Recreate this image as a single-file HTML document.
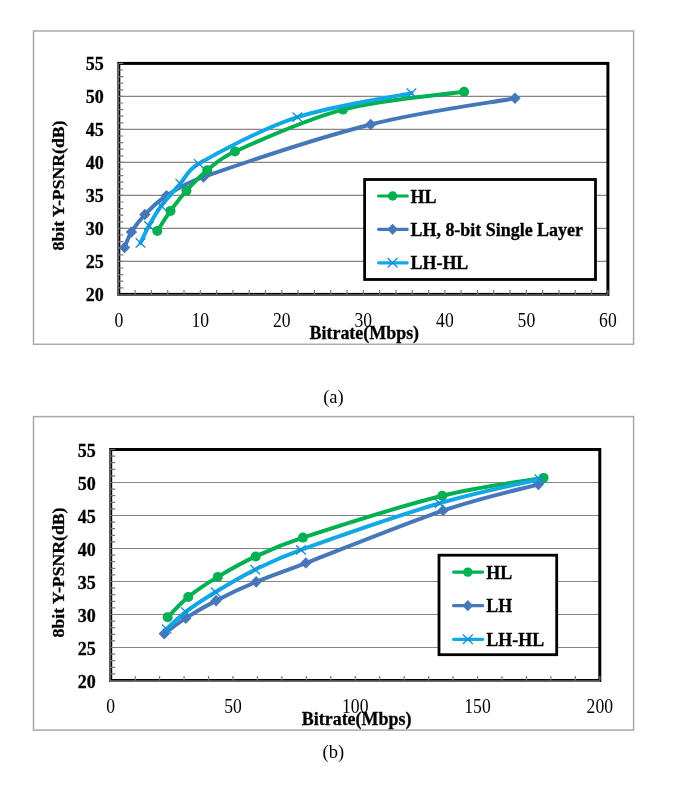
<!DOCTYPE html>
<html><head><meta charset="utf-8"><style>
html,body{margin:0;padding:0;background:#fff;}
body{width:685px;height:798px;overflow:hidden;}
svg{display:block;will-change:transform;}
text{font-family:"Liberation Serif",serif;fill:#000;}
.tl{opacity:0.995;}
.b{font-weight:bold;stroke:#000;stroke-width:0.3px;}
.yl{font-size:18px;text-anchor:end;}
.xl{font-size:20.5px;text-anchor:middle;}
.ti{font-size:17.95px;}
.lg{font-size:17.95px;}
.yt{font-size:17.7px;}
.cap{font-size:18.5px;}
</style></head><body>
<svg width="685" height="798" viewBox="0 0 685 798">
<g class="tl">
<rect x="33.5" y="31" width="600.1" height="313.3" fill="none" stroke="#a9a9a9" stroke-width="1.5"/>
<line x1="118.8" y1="261.4" x2="607.9" y2="261.4" stroke="#858585" stroke-width="1.2"/>
<line x1="118.8" y1="228.4" x2="607.9" y2="228.4" stroke="#858585" stroke-width="1.2"/>
<line x1="118.8" y1="195.4" x2="607.9" y2="195.4" stroke="#858585" stroke-width="1.2"/>
<line x1="118.8" y1="162.4" x2="607.9" y2="162.4" stroke="#858585" stroke-width="1.2"/>
<line x1="118.8" y1="129.4" x2="607.9" y2="129.4" stroke="#858585" stroke-width="1.2"/>
<line x1="118.8" y1="96.4" x2="607.9" y2="96.4" stroke="#858585" stroke-width="1.2"/>
<rect x="118.8" y="63.4" width="489.1" height="231" fill="none" stroke="#000" stroke-width="3"/>
<path d="M118.2,63.4 V295 H607.9" fill="none" stroke="#6a6a6a" stroke-width="1.6"/>
<path d="M118.8,287.8h4.5 M118.8,281.2h4.5 M118.8,274.6h4.5 M118.8,268h4.5 M118.8,261.4h4.5 M118.8,254.8h4.5 M118.8,248.2h4.5 M118.8,241.6h4.5 M118.8,235h4.5 M118.8,228.4h4.5 M118.8,221.8h4.5 M118.8,215.2h4.5 M118.8,208.6h4.5 M118.8,202h4.5 M118.8,195.4h4.5 M118.8,188.8h4.5 M118.8,182.2h4.5 M118.8,175.6h4.5 M118.8,169h4.5 M118.8,162.4h4.5 M118.8,155.8h4.5 M118.8,149.2h4.5 M118.8,142.6h4.5 M118.8,136h4.5 M118.8,129.4h4.5 M118.8,122.8h4.5 M118.8,116.2h4.5 M118.8,109.6h4.5 M118.8,103h4.5 M118.8,96.4h4.5 M118.8,89.8h4.5 M118.8,83.2h4.5 M118.8,76.6h4.5 M118.8,70h4.5 M118.8,63.4h4.5 M135.1,294.4v-4.5 M151.41,294.4v-4.5 M167.71,294.4v-4.5 M184.01,294.4v-4.5 M200.32,294.4v-4.5 M216.62,294.4v-4.5 M232.92,294.4v-4.5 M249.23,294.4v-4.5 M265.53,294.4v-4.5 M281.83,294.4v-4.5 M298.14,294.4v-4.5 M314.44,294.4v-4.5 M330.74,294.4v-4.5 M347.05,294.4v-4.5 M363.35,294.4v-4.5 M379.65,294.4v-4.5 M395.96,294.4v-4.5 M412.26,294.4v-4.5 M428.56,294.4v-4.5 M444.87,294.4v-4.5 M461.17,294.4v-4.5 M477.47,294.4v-4.5 M493.78,294.4v-4.5 M510.08,294.4v-4.5 M526.38,294.4v-4.5 M542.69,294.4v-4.5 M558.99,294.4v-4.5 M575.29,294.4v-4.5 M591.6,294.4v-4.5 M607.9,294.4v-4.5" stroke="#7a7a7a" stroke-width="1.2"/>
<text x="103.8" y="301.4" class="b yl">20</text>
<text x="103.8" y="268.4" class="b yl">25</text>
<text x="103.8" y="235.4" class="b yl">30</text>
<text x="103.8" y="202.4" class="b yl">35</text>
<text x="103.8" y="169.4" class="b yl">40</text>
<text x="103.8" y="136.4" class="b yl">45</text>
<text x="103.8" y="103.4" class="b yl">50</text>
<text x="103.8" y="70.4" class="b yl">55</text>
<text transform="translate(118.8,326.5) scale(0.86,1)" class="r xl">0</text>
<text transform="translate(200.32,326.5) scale(0.86,1)" class="r xl">10</text>
<text transform="translate(281.83,326.5) scale(0.86,1)" class="r xl">20</text>
<text transform="translate(363.35,326.5) scale(0.86,1)" class="r xl">30</text>
<text transform="translate(444.87,326.5) scale(0.86,1)" class="r xl">40</text>
<text transform="translate(526.38,326.5) scale(0.86,1)" class="r xl">50</text>
<text transform="translate(607.9,326.5) scale(0.86,1)" class="r xl">60</text>
<text x="309.5" y="338.7" class="b ti">Bitrate(Mbps)</text>
<text transform="translate(64.3,185.5) rotate(-90)" x="0" y="0" class="b yt" text-anchor="middle">8bit Y-PSNR(dB)</text>
<path d="M124.51,247.54 C125.66,244.95 128.04,237.53 131.44,232.03 C134.83,226.53 139.04,220.59 144.89,214.54 C150.73,208.49 156.72,202 166.49,195.73 C176.26,189.46 183.9,183.76 203.5,176.92 C237.53,165.04 318.77,137.56 370.69,124.45 C422.6,111.34 490.92,102.62 514.97,98.25" fill="none" stroke="#4677b9" stroke-width="4" stroke-linecap="round" stroke-linejoin="round"/>
<path d="M124.51,241.74 L130.21,247.54 L124.51,253.34 L118.81,247.54Z" fill="#4677b9"/>
<path d="M131.44,226.23 L137.14,232.03 L131.44,237.83 L125.74,232.03Z" fill="#4677b9"/>
<path d="M144.89,208.74 L150.59,214.54 L144.89,220.34 L139.19,214.54Z" fill="#4677b9"/>
<path d="M166.49,189.93 L172.19,195.73 L166.49,201.53 L160.79,195.73Z" fill="#4677b9"/>
<path d="M203.5,171.12 L209.2,176.92 L203.5,182.72 L197.8,176.92Z" fill="#4677b9"/>
<path d="M370.69,118.65 L376.39,124.45 L370.69,130.25 L364.99,124.45Z" fill="#4677b9"/>
<path d="M514.97,92.45 L520.67,98.25 L514.97,104.05 L509.27,98.25Z" fill="#4677b9"/>
<path d="M157.28,231.04 C159.48,227.68 165.62,217.62 170.48,210.91 C175.35,204.2 180.33,197.54 186.46,190.78 C192.59,184.01 199.16,176.87 207.25,170.32 C215.33,163.78 219.67,158.35 234.96,151.51 C257.58,141.39 304.78,119.56 342.97,109.6 C381.16,99.65 443.92,94.75 464.1,91.78" fill="none" stroke="#00b050" stroke-width="4" stroke-linecap="round" stroke-linejoin="round"/>
<circle cx="157.28" cy="231.04" r="5" fill="#00b050"/>
<circle cx="170.48" cy="210.91" r="5" fill="#00b050"/>
<circle cx="186.46" cy="190.78" r="5" fill="#00b050"/>
<circle cx="207.25" cy="170.32" r="5" fill="#00b050"/>
<circle cx="234.96" cy="151.51" r="5" fill="#00b050"/>
<circle cx="342.97" cy="109.6" r="5" fill="#00b050"/>
<circle cx="464.1" cy="91.78" r="5" fill="#00b050"/>
<path d="M140.48,242.92 C141.9,240.06 145.51,231.92 148.96,225.76 C152.41,219.6 155.96,213 161.19,205.96 C166.42,198.92 174.1,190.56 180.35,183.52 C186.59,176.48 186.95,170.38 198.69,163.72 C218.18,152.67 261.86,128.96 297.32,117.19 C332.78,105.42 392.42,97.12 411.44,93.1" fill="none" stroke="#12a8e6" stroke-width="4" stroke-linecap="round" stroke-linejoin="round"/>
<path d="M135.68,238.32 L145.28,247.52 M145.28,238.32 L135.68,247.52" stroke="#1590d4" stroke-width="1.35"/>
<path d="M144.16,221.16 L153.76,230.36 M153.76,221.16 L144.16,230.36" stroke="#1590d4" stroke-width="1.35"/>
<path d="M156.39,201.36 L165.99,210.56 M165.99,201.36 L156.39,210.56" stroke="#1590d4" stroke-width="1.35"/>
<path d="M175.55,178.92 L185.15,188.12 M185.15,178.92 L175.55,188.12" stroke="#1590d4" stroke-width="1.35"/>
<path d="M193.89,159.12 L203.49,168.32 M203.49,159.12 L193.89,168.32" stroke="#1590d4" stroke-width="1.35"/>
<path d="M292.52,112.59 L302.12,121.79 M302.12,112.59 L292.52,121.79" stroke="#1590d4" stroke-width="1.35"/>
<path d="M406.64,88.5 L416.24,97.7 M416.24,88.5 L406.64,97.7" stroke="#1590d4" stroke-width="1.35"/>
<rect x="364.6" y="179.5" width="230.9" height="100" fill="#fff" stroke="#000" stroke-width="2.8"/>
<line x1="378.6" y1="196" x2="407.2" y2="196" stroke="#00b050" stroke-width="3.2" stroke-linecap="round"/>
<circle cx="392.6" cy="196" r="4.7" fill="#00b050"/>
<text x="410.5" y="202.6" class="b lg">HL</text>
<line x1="378.6" y1="229.3" x2="407.2" y2="229.3" stroke="#4677b9" stroke-width="3.2" stroke-linecap="round"/>
<path d="M392.6,223.7 L398,229.3 L392.6,234.9 L387.2,229.3Z" fill="#4677b9"/>
<text x="410.5" y="235.9" class="b lg">LH, 8-bit Single Layer</text>
<line x1="378.6" y1="262.8" x2="407.2" y2="262.8" stroke="#12a8e6" stroke-width="3.2" stroke-linecap="round"/>
<path d="M387.6,258 L397.6,267.6 M397.6,258 L387.6,267.6" stroke="#1590d4" stroke-width="1.35"/>
<text x="410.5" y="269.4" class="b lg">LH-HL</text>
<text x="333.4" y="402.5" class="r cap" text-anchor="middle">(a)</text>
<rect x="33.5" y="416.6" width="600.1" height="313.5" fill="none" stroke="#a9a9a9" stroke-width="1.5"/>
<line x1="110.7" y1="647.5" x2="599.8" y2="647.5" stroke="#858585" stroke-width="1.2"/>
<line x1="110.7" y1="614.5" x2="599.8" y2="614.5" stroke="#858585" stroke-width="1.2"/>
<line x1="110.7" y1="581.5" x2="599.8" y2="581.5" stroke="#858585" stroke-width="1.2"/>
<line x1="110.7" y1="548.5" x2="599.8" y2="548.5" stroke="#858585" stroke-width="1.2"/>
<line x1="110.7" y1="515.5" x2="599.8" y2="515.5" stroke="#858585" stroke-width="1.2"/>
<line x1="110.7" y1="482.5" x2="599.8" y2="482.5" stroke="#858585" stroke-width="1.2"/>
<rect x="110.7" y="449.5" width="489.1" height="231" fill="none" stroke="#000" stroke-width="3"/>
<path d="M110.1,449.5 V681.1 H599.8" fill="none" stroke="#6a6a6a" stroke-width="1.6"/>
<path d="M110.7,673.9h4.5 M110.7,667.3h4.5 M110.7,660.7h4.5 M110.7,654.1h4.5 M110.7,647.5h4.5 M110.7,640.9h4.5 M110.7,634.3h4.5 M110.7,627.7h4.5 M110.7,621.1h4.5 M110.7,614.5h4.5 M110.7,607.9h4.5 M110.7,601.3h4.5 M110.7,594.7h4.5 M110.7,588.1h4.5 M110.7,581.5h4.5 M110.7,574.9h4.5 M110.7,568.3h4.5 M110.7,561.7h4.5 M110.7,555.1h4.5 M110.7,548.5h4.5 M110.7,541.9h4.5 M110.7,535.3h4.5 M110.7,528.7h4.5 M110.7,522.1h4.5 M110.7,515.5h4.5 M110.7,508.9h4.5 M110.7,502.3h4.5 M110.7,495.7h4.5 M110.7,489.1h4.5 M110.7,482.5h4.5 M110.7,475.9h4.5 M110.7,469.3h4.5 M110.7,462.7h4.5 M110.7,456.1h4.5 M110.7,449.5h4.5 M135.16,680.5v-4.5 M159.61,680.5v-4.5 M184.06,680.5v-4.5 M208.52,680.5v-4.5 M232.98,680.5v-4.5 M257.43,680.5v-4.5 M281.88,680.5v-4.5 M306.34,680.5v-4.5 M330.8,680.5v-4.5 M355.25,680.5v-4.5 M379.7,680.5v-4.5 M404.16,680.5v-4.5 M428.62,680.5v-4.5 M453.07,680.5v-4.5 M477.52,680.5v-4.5 M501.98,680.5v-4.5 M526.44,680.5v-4.5 M550.89,680.5v-4.5 M575.35,680.5v-4.5 M599.8,680.5v-4.5" stroke="#7a7a7a" stroke-width="1.2"/>
<text x="95.7" y="687.5" class="b yl">20</text>
<text x="95.7" y="654.5" class="b yl">25</text>
<text x="95.7" y="621.5" class="b yl">30</text>
<text x="95.7" y="588.5" class="b yl">35</text>
<text x="95.7" y="555.5" class="b yl">40</text>
<text x="95.7" y="522.5" class="b yl">45</text>
<text x="95.7" y="489.5" class="b yl">50</text>
<text x="95.7" y="456.5" class="b yl">55</text>
<text transform="translate(110.7,712.6) scale(0.86,1)" class="r xl">0</text>
<text transform="translate(232.98,712.6) scale(0.86,1)" class="r xl">50</text>
<text transform="translate(355.25,712.6) scale(0.86,1)" class="r xl">100</text>
<text transform="translate(477.52,712.6) scale(0.86,1)" class="r xl">150</text>
<text transform="translate(599.8,712.6) scale(0.86,1)" class="r xl">200</text>
<text x="301.8" y="724.7" class="b ti">Bitrate(Mbps)</text>
<text transform="translate(64.3,572.5) rotate(-90)" x="0" y="0" class="b yt" text-anchor="middle">8bit Y-PSNR(dB)</text>
<path d="M164.26,633.64 C167.84,631.05 177.14,623.63 185.78,618.13 C194.42,612.63 204.36,606.69 216.1,600.64 C227.84,594.59 241.25,588.1 256.21,581.83 C271.17,575.56 281.05,572.48 305.85,563.02 C336.99,551.14 404.28,523.66 443.04,510.55 C481.8,497.44 522.52,488.72 538.42,484.35" fill="none" stroke="#4677b9" stroke-width="4" stroke-linecap="round" stroke-linejoin="round"/>
<path d="M164.26,627.84 L169.96,633.64 L164.26,639.44 L158.56,633.64Z" fill="#4677b9"/>
<path d="M185.78,612.33 L191.48,618.13 L185.78,623.93 L180.08,618.13Z" fill="#4677b9"/>
<path d="M216.1,594.84 L221.8,600.64 L216.1,606.44 L210.4,600.64Z" fill="#4677b9"/>
<path d="M256.21,576.03 L261.91,581.83 L256.21,587.63 L250.51,581.83Z" fill="#4677b9"/>
<path d="M305.85,557.22 L311.55,563.02 L305.85,568.82 L300.15,563.02Z" fill="#4677b9"/>
<path d="M443.04,504.75 L448.74,510.55 L443.04,516.35 L437.34,510.55Z" fill="#4677b9"/>
<path d="M538.42,478.55 L544.12,484.35 L538.42,490.15 L532.72,484.35Z" fill="#4677b9"/>
<path d="M167.68,617.14 C171.1,613.78 179.87,603.72 188.22,597.01 C196.58,590.3 206.56,583.64 217.81,576.88 C229.06,570.12 241.53,562.97 255.72,556.42 C269.9,549.88 278.76,545.47 302.92,537.61 C334.01,527.49 402.2,505.66 442.31,495.7 C482.42,485.75 526.68,480.85 543.55,477.88" fill="none" stroke="#00b050" stroke-width="4" stroke-linecap="round" stroke-linejoin="round"/>
<circle cx="167.68" cy="617.14" r="5" fill="#00b050"/>
<circle cx="188.22" cy="597.01" r="5" fill="#00b050"/>
<circle cx="217.81" cy="576.88" r="5" fill="#00b050"/>
<circle cx="255.72" cy="556.42" r="5" fill="#00b050"/>
<circle cx="302.92" cy="537.61" r="5" fill="#00b050"/>
<circle cx="442.31" cy="495.7" r="5" fill="#00b050"/>
<circle cx="543.55" cy="477.88" r="5" fill="#00b050"/>
<path d="M166.7,629.02 C169.88,626.16 177.63,618.02 185.78,611.86 C193.93,605.7 204.04,599.1 215.61,592.06 C227.19,585.02 241,576.66 255.23,569.62 C269.45,562.58 277.51,558.25 300.96,549.82 C331.69,538.77 399.88,515.06 439.62,503.29 C479.36,491.52 522.77,483.22 539.4,479.2" fill="none" stroke="#12a8e6" stroke-width="4" stroke-linecap="round" stroke-linejoin="round"/>
<path d="M161.9,624.42 L171.5,633.62 M171.5,624.42 L161.9,633.62" stroke="#1590d4" stroke-width="1.35"/>
<path d="M180.98,607.26 L190.58,616.46 M190.58,607.26 L180.98,616.46" stroke="#1590d4" stroke-width="1.35"/>
<path d="M210.81,587.46 L220.41,596.66 M220.41,587.46 L210.81,596.66" stroke="#1590d4" stroke-width="1.35"/>
<path d="M250.43,565.02 L260.03,574.22 M260.03,565.02 L250.43,574.22" stroke="#1590d4" stroke-width="1.35"/>
<path d="M296.16,545.22 L305.76,554.42 M305.76,545.22 L296.16,554.42" stroke="#1590d4" stroke-width="1.35"/>
<path d="M434.82,498.69 L444.42,507.89 M444.42,498.69 L434.82,507.89" stroke="#1590d4" stroke-width="1.35"/>
<path d="M534.6,474.6 L544.2,483.8 M544.2,474.6 L534.6,483.8" stroke="#1590d4" stroke-width="1.35"/>
<rect x="439" y="555.2" width="117.7" height="99.5" fill="#fff" stroke="#000" stroke-width="2.8"/>
<line x1="453.6" y1="572.1" x2="482.6" y2="572.1" stroke="#00b050" stroke-width="3.2" stroke-linecap="round"/>
<circle cx="467.8" cy="572.1" r="4.7" fill="#00b050"/>
<text x="486.3" y="578.7" class="b lg">HL</text>
<line x1="453.6" y1="605.7" x2="482.6" y2="605.7" stroke="#4677b9" stroke-width="3.2" stroke-linecap="round"/>
<path d="M467.8,600.1 L473.2,605.7 L467.8,611.3 L462.4,605.7Z" fill="#4677b9"/>
<text x="486.3" y="612.3" class="b lg">LH</text>
<line x1="453.6" y1="639.3" x2="482.6" y2="639.3" stroke="#12a8e6" stroke-width="3.2" stroke-linecap="round"/>
<path d="M462.8,634.5 L472.8,644.1 M472.8,634.5 L462.8,644.1" stroke="#1590d4" stroke-width="1.35"/>
<text x="486.3" y="645.9" class="b lg">LH-HL</text>
<text x="333.4" y="757.8" class="r cap" text-anchor="middle">(b)</text>
</g>
</svg>
</body></html>
